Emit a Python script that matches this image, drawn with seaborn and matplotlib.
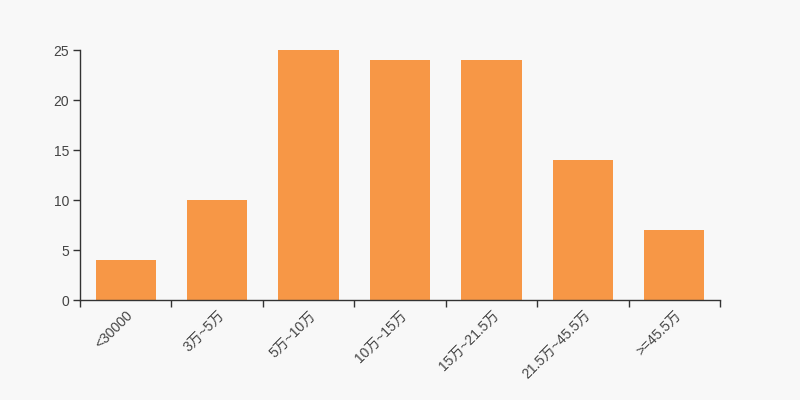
import matplotlib
matplotlib.use("Agg")
import matplotlib.pyplot as plt
import seaborn as sns
import pandas as pd
import numpy as np

categories = ["<30000", "3万~5万", "5万~10万", "10万~15万", "15万~21.5万", "21.5万~45.5万", ">=45.5万"]
counts = [4, 10, 25, 24, 24, 14, 7]

sns.set_style("white")
plt.rcParams['font.family'] = ['Liberation Sans', 'Noto Sans CJK SC', 'DejaVu Sans']

df = pd.DataFrame({"range": categories, "count": counts})

fig = plt.figure(figsize=(8, 4), dpi=100, facecolor="#f8f8f8")
ax = fig.add_axes([0.1, 0.25, 0.8, 0.625])
ax.set_facecolor("#f8f8f8")

sns.barplot(data=df, x="range", y="count", color="#f79746", saturation=1,
            width=0.66, linewidth=0, ax=ax)

ax.set_xlim(-0.5, len(categories) - 0.5)
ax.set_ylim(0, 25)
ax.set_yticks([0, 5, 10, 15, 20, 25])
ax.set_xlabel("")
ax.set_ylabel("")

# ticks on category boundaries, labels at centres
ax.set_xticks(np.arange(-0.5, len(categories), 1.0))
ax.set_xticklabels([])
ax.set_xticks(np.arange(len(categories)), minor=True)
ax.set_xticklabels(categories, minor=True, rotation=45, ha="right",
                   rotation_mode="anchor", fontsize=10, color="#444444")
ax.tick_params(axis="x", which="minor", bottom=False, length=0, pad=6)
ax.tick_params(axis="x", which="major", bottom=True, length=5, width=1,
               color="#333333", direction="out")
ax.tick_params(axis="y", left=True, length=5, width=1, color="#333333", direction="out",
               labelsize=10, labelcolor="#444444", pad=3)

for side in ["top", "right"]:
    ax.spines[side].set_visible(False)
for side in ["left", "bottom"]:
    ax.spines[side].set_color("#333333")
    ax.spines[side].set_linewidth(1)

fig.savefig("out.png", dpi=100, facecolor=fig.get_facecolor())
